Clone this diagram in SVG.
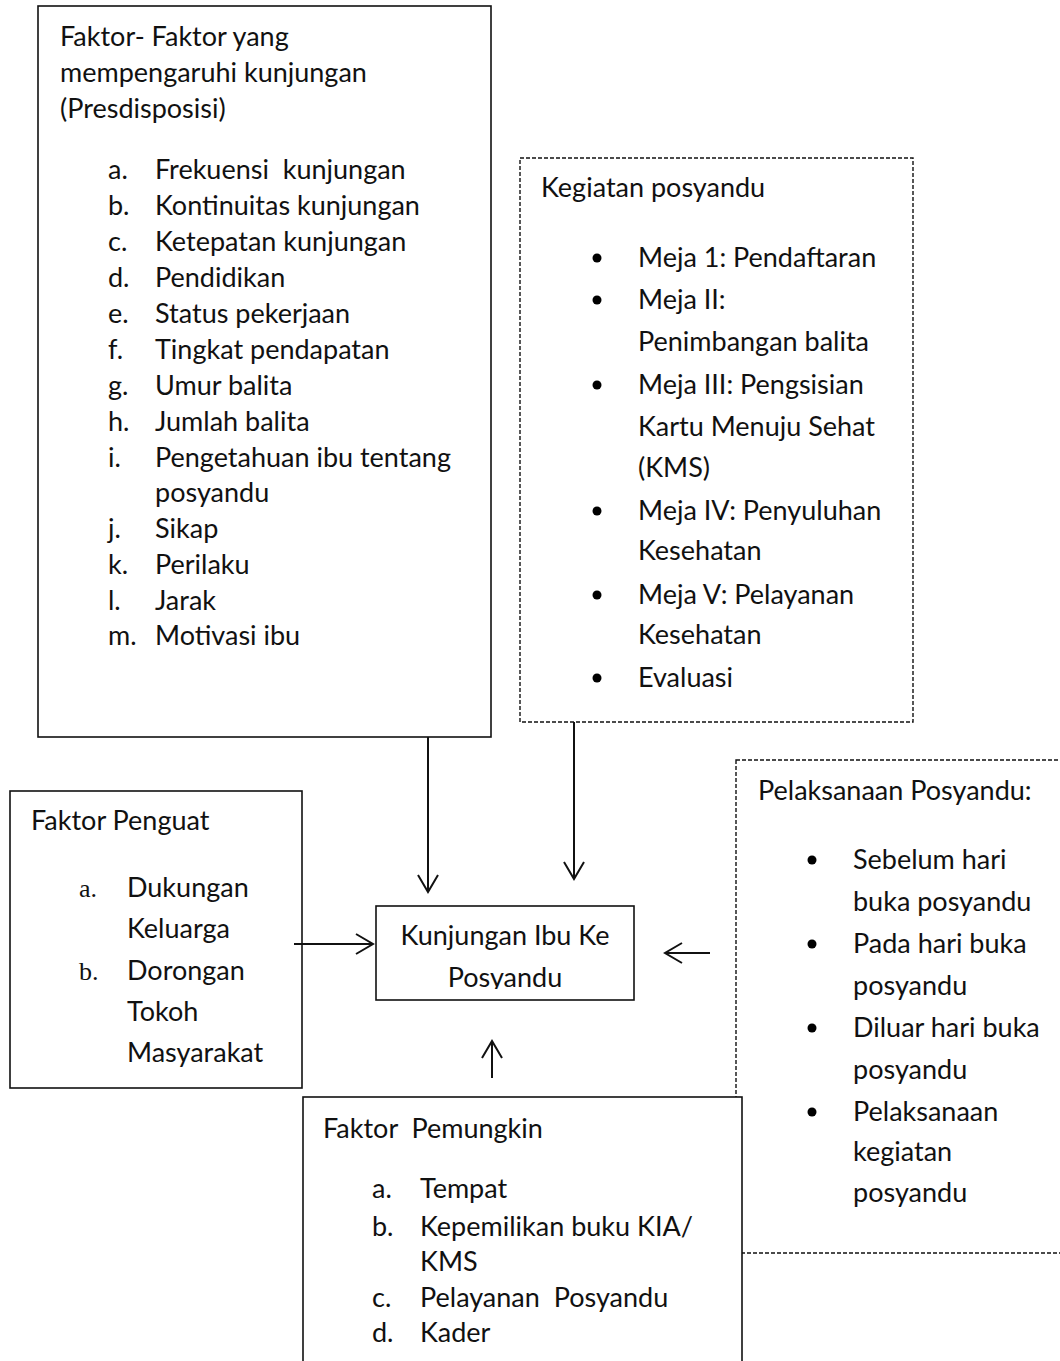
<svg xmlns="http://www.w3.org/2000/svg" width="1060" height="1361" viewBox="0 0 1060 1361">
<style>
text{font-family:Lato,"Open Sans","Liberation Sans",sans-serif;font-size:27px;fill:#111;white-space:pre}
.serif{font-family:"Liberation Serif",serif;font-size:26px}
.box{fill:#fff;stroke:#111;stroke-width:1.6}
.dash{fill:#fff;stroke:#111;stroke-width:1.4;stroke-dasharray:4 2}
.conn{fill:none;stroke:#111;stroke-width:2;marker-end:url(#arr)}
.ctr{text-anchor:middle}
</style>
<defs>
<marker id="arr" markerUnits="userSpaceOnUse" orient="auto" refX="0" refY="0" markerWidth="30" markerHeight="30" overflow="visible">
<path d="M-17,-10 L0,0 L-17,10" fill="none" stroke="#111" stroke-width="2"/>
</marker>
<clipPath id="cclip"><rect x="376" y="906" width="258" height="83"/></clipPath>
</defs>
<rect width="1060" height="1361" fill="#fff"/>

<g id="presdisposisi">
<rect class="box" x="38" y="6" width="453" height="731"/>
<text x="60" y="46">Faktor- Faktor yang</text>
<text x="60" y="82">mempengaruhi kunjungan</text>
<text x="60" y="118">(Presdisposisi)</text>
<text x="108" y="179">a.</text><text x="155" y="179">Frekuensi  kunjungan</text>
<text x="108" y="215">b.</text><text x="155" y="215">Kontinuitas kunjungan</text>
<text x="108" y="251">c.</text><text x="155" y="251">Ketepatan kunjungan</text>
<text x="108" y="287">d.</text><text x="155" y="287">Pendidikan</text>
<text x="108" y="323">e.</text><text x="155" y="323">Status pekerjaan</text>
<text x="108" y="359">f.</text><text x="155" y="359">Tingkat pendapatan</text>
<text x="108" y="395">g.</text><text x="155" y="395">Umur balita</text>
<text x="108" y="431">h.</text><text x="155" y="431">Jumlah balita</text>
<text x="108" y="467">i.</text><text x="155" y="467">Pengetahuan ibu tentang</text>
<text x="155" y="502">posyandu</text>
<text x="108" y="538">j.</text><text x="155" y="538">Sikap</text>
<text x="108" y="574">k.</text><text x="155" y="574">Perilaku</text>
<text x="108" y="610">l.</text><text x="155" y="610">Jarak</text>
<text x="108" y="645">m.</text><text x="155" y="645">Motivasi ibu</text>
</g>

<g id="kegiatan">
<rect class="dash" x="520" y="158" width="393" height="564"/>
<text x="541" y="197">Kegiatan posyandu</text>
<circle cx="597" cy="258" r="4.5"/><text x="638" y="267">Meja 1: Pendaftaran</text>
<circle cx="597" cy="300" r="4.5"/><text x="638" y="309">Meja II:</text>
<text x="638" y="351">Penimbangan balita</text>
<circle cx="597" cy="385" r="4.5"/><text x="638" y="394">Meja III: Pengsisian</text>
<text x="638" y="436">Kartu Menuju Sehat</text>
<text x="638" y="477">(KMS)</text>
<circle cx="597" cy="511" r="4.5"/><text x="638" y="520">Meja IV: Penyuluhan</text>
<text x="638" y="560">Kesehatan</text>
<circle cx="597" cy="595" r="4.5"/><text x="638" y="604">Meja V: Pelayanan</text>
<text x="638" y="644">Kesehatan</text>
<circle cx="597" cy="678" r="4.5"/><text x="638" y="687">Evaluasi</text>
</g>

<g id="penguat">
<rect class="box" x="10" y="791" width="292" height="297"/>
<text x="31" y="830">Faktor Penguat</text>
<text class="serif" x="79" y="897">a.</text><text x="127" y="897">Dukungan</text>
<text x="127" y="938">Keluarga</text>
<text class="serif" x="79" y="980">b.</text><text x="127" y="980">Dorongan</text>
<text x="127" y="1021">Tokoh</text>
<text x="127" y="1062">Masyarakat</text>
</g>

<g id="pelaksanaan">
<rect class="dash" x="736" y="760" width="340" height="493"/>
<text x="758" y="800">Pelaksanaan Posyandu:</text>
<circle cx="812" cy="860" r="4.5"/><text x="853" y="869">Sebelum hari</text>
<text x="853" y="911">buka posyandu</text>
<circle cx="812" cy="944" r="4.5"/><text x="853" y="953">Pada hari buka</text>
<text x="853" y="995">posyandu</text>
<circle cx="812" cy="1028" r="4.5"/><text x="853" y="1037">Diluar hari buka</text>
<text x="853" y="1079">posyandu</text>
<circle cx="812" cy="1112" r="4.5"/><text x="853" y="1121">Pelaksanaan</text>
<text x="853" y="1161">kegiatan</text>
<text x="853" y="1202">posyandu</text>
</g>

<g id="pemungkin">
<rect class="box" x="303" y="1097" width="439" height="300"/>
<text x="323" y="1138">Faktor  Pemungkin</text>
<text x="372" y="1198">a.</text><text x="420" y="1198">Tempat</text>
<text x="372" y="1236">b.</text><text x="420" y="1236">Kepemilikan buku KIA/</text>
<text x="420" y="1271">KMS</text>
<text x="372" y="1307">c.</text><text x="420" y="1307">Pelayanan  Posyandu</text>
<text x="372" y="1342">d.</text><text x="420" y="1342">Kader</text>
</g>

<g id="kunjungan">
<rect class="box" x="376" y="906" width="258" height="94"/>
<g clip-path="url(#cclip)">
<text class="ctr" x="505" y="945">Kunjungan Ibu Ke</text>
<text class="ctr" x="505" y="987">Posyandu</text>
</g>
</g>

<g id="connectors">
<path class="conn" d="M428,737 L428,892"/>
<path class="conn" d="M574,722 L574,879"/>
<path class="conn" d="M294,944 L373,944"/>
<path class="conn" d="M710,953 L665,953"/>
<path class="conn" d="M492,1078 L492,1041"/>
</g>
</svg>
